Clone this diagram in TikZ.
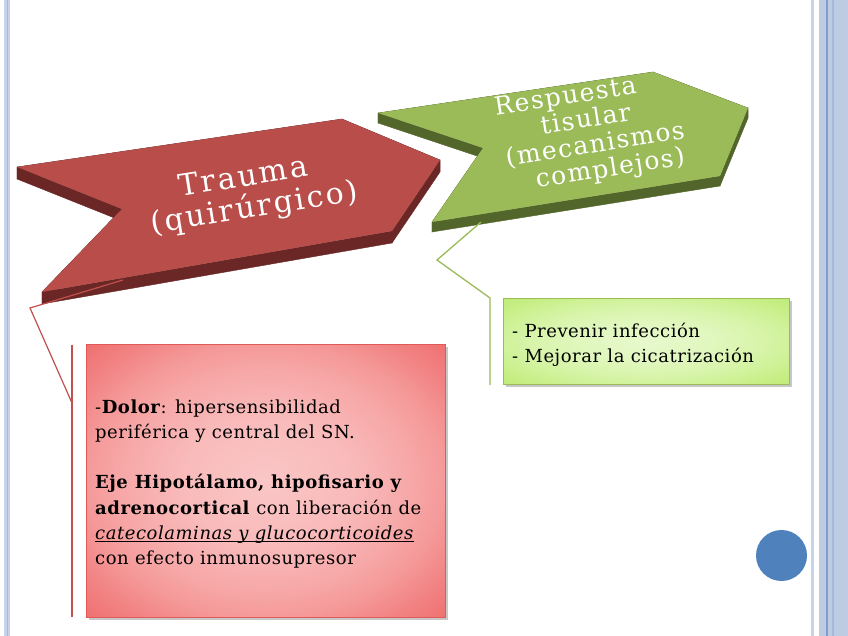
\documentclass[tikz,border=0pt]{standalone}
\usepackage{fontspec}
\setmainfont{DejaVu Serif}
\newfontfamily\arrowfont[LetterSpace=8]{DejaVu Serif}
\newfontfamily\greenfont[LetterSpace=6]{DejaVu Serif}
\newfontfamily\bodyfont[LetterSpace=3]{DejaVu Serif}
\definecolor{stripeL}{HTML}{C6D3EA}
\definecolor{stripeM}{HTML}{BDCBE3}
\definecolor{stripeD}{HTML}{7E9FD2}
\definecolor{stripeD2}{HTML}{A5B9DC}
\definecolor{redTop}{HTML}{B84D4A}
\definecolor{redSide}{HTML}{6A2725}
\definecolor{greenTop}{HTML}{9BBB59}
\definecolor{greenSide}{HTML}{52652A}
\definecolor{redLine}{HTML}{C0504D}
\definecolor{greenLine}{HTML}{9BBB59}
\definecolor{rBorder}{HTML}{E05A57}
\definecolor{dotBlue}{HTML}{4F81BD}
\pgfdeclareradialshading{gshade}{\pgfpoint{0bp}{0bp}}{color(0bp)=(rgb,255:red,231;green,249;blue,205); color(12bp)=(rgb,255:red,224;green,247;blue,189); color(20bp)=(rgb,255:red,216;green,244;blue,170); color(25bp)=(rgb,255:red,208;green,242;blue,154); color(30bp)=(rgb,255:red,200;green,239;blue,136); color(36bp)=(rgb,255:red,190;green,234;blue,118); color(50bp)=(rgb,255:red,190;green,234;blue,118)}
\pgfdeclareradialshading{rshade}{\pgfpoint{0bp}{0bp}}{color(0bp)=(rgb,255:red,250;green,198;blue,198); color(12bp)=(rgb,255:red,249;green,186;blue,186); color(20bp)=(rgb,255:red,247;green,168;blue,168); color(25bp)=(rgb,255:red,245;green,153;blue,153); color(30bp)=(rgb,255:red,242;green,132;blue,132); color(36bp)=(rgb,255:red,239;green,110;blue,110); color(50bp)=(rgb,255:red,239;green,110;blue,110)}
\tikzset{
  arrowtxt/.style={align=center, inner sep=0pt, rotate=9, text=white,
    font=\arrowfont\fontsize{30}{32}\selectfont},
  greentxt/.style={align=center, inner sep=0pt, rotate=9, text=white,
    font=\greenfont\fontsize{25}{26}\selectfont},
  boxtxt/.style={align=left, inner sep=0pt, anchor=west,
    font=\bodyfont\fontsize{18}{25.3}\selectfont},
  callred/.style={draw=redLine, line width=1.2pt},
  callgreen/.style={draw=greenLine, line width=1.3pt},
}
\begin{document}
\begin{tikzpicture}[x=1pt,y=-1pt]
\useasboundingbox (0,0) rectangle (848,636);
\fill[white] (0,0) rectangle (848,636);
% side stripes
\fill[stripeL] (4,0) rectangle (10,636);
\fill[stripeD2] (6.5,0) rectangle (7.8,636);
\fill[stripeL] (811,0) rectangle (814,636);
\fill[stripeM] (819,0) rectangle (848,636);
\fill[stripeD] (826,0) rectangle (828,636);
\fill[stripeD2] (832,0) rectangle (834,636);

% green arrow
\coordinate (gA) at (378,113);
\coordinate (gB) at (653,72);
\coordinate (gC) at (748,108);
\coordinate (gD) at (720,176);
\coordinate (gE) at (432,222);
\coordinate (gF) at (483,148);
\foreach \p/\q in {gA/gB,gB/gC,gC/gD,gD/gE,gE/gF,gF/gA}
  \filldraw[fill=greenSide, draw=greenSide, line width=0.4pt]
    (\p) -- (\q) -- ([yshift=-10pt]\q) -- ([yshift=-10pt]\p) -- cycle;
\fill[greenTop] (gA) -- (gB) -- (gC) -- (gD) -- (gE) -- (gF) -- cycle;

% red arrow
\coordinate (rA) at (17,167);
\coordinate (rB) at (342,119);
\coordinate (rC) at (440,160);
\coordinate (rD) at (392,231);
\coordinate (rE) at (42,292);
\coordinate (rF) at (122,209);
\foreach \p/\q in {rA/rB,rB/rC,rC/rD,rD/rE,rE/rF,rF/rA}
  \filldraw[fill=redSide, draw=redSide, line width=0.4pt]
    (\p) -- (\q) -- ([yshift=-12pt]\q) -- ([yshift=-12pt]\p) -- cycle;
\fill[redTop] (rA) -- (rB) -- (rC) -- (rD) -- (rE) -- (rF) -- cycle;

% arrow texts
\node[arrowtxt] (trauma) at (249,194) {Trauma\hspace*{6pt}\\\hspace*{6pt}(quirúrgico)};
\node[greentxt] (resp) at (588,134) {Respuesta\hspace*{33pt}\\tisular\hspace*{11pt}\\\hspace*{11pt}(mecanismos\\\hspace*{33pt}complejos)};

% green box
\fill[black, opacity=.22] (506,301) rectangle (792,387);
\node[draw=greenLine, line width=1pt, shading=gshade,
      minimum width=286pt, minimum height=86pt, inner sep=0pt, anchor=north west]
      (gbox) at (503,298) {};
\node[boxtxt] (gtext) at (512,345) {- Prevenir infección\\- Mejorar la cicatrización};

% red box
\fill[black, opacity=.22] (89,347) rectangle (448,620);
\node[draw=rBorder, line width=1pt, shading=rshade,
      minimum width=359pt, minimum height=273pt, inner sep=0pt, anchor=north west]
      (rbox) at (86,344) {};
\node[boxtxt] (rtext) at (95,484) {-\textbf{Dolor}: hipersensibilidad\\
periférica y central del SN.\\[25.3pt]
\textbf{Eje Hipotálamo, hipofisario y}\\
\textbf{adrenocortical} con liberación de\\
\underline{\smash{\textit{catecolaminas y glucocorticoides}}}\\
con efecto inmunosupresor};

% callout lines
\coordinate (rl0) at (123,280);
\coordinate (rl1) at (30,308);
\coordinate (rl2) at (72,403);
\coordinate (rbarT) at (72,345);
\coordinate (rbarB) at (72,617);
\draw[callred] (rl0) -- (rl1) -- (rl2);
\draw[callred] (rbarT) -- (rbarB);

\coordinate (gl0) at (481,222);
\coordinate (gl1) at (437,260);
\coordinate (gl2) at (490,298);
\coordinate (gbarB) at (490,385);
\draw[callgreen] (gl0) -- (gl1) -- (gl2) -- (gbarB);

% blue dot
\node[circle, fill=dotBlue, minimum size=51pt, inner sep=0pt] (dot) at (781.5,555.5) {};
\end{tikzpicture}
\end{document}
